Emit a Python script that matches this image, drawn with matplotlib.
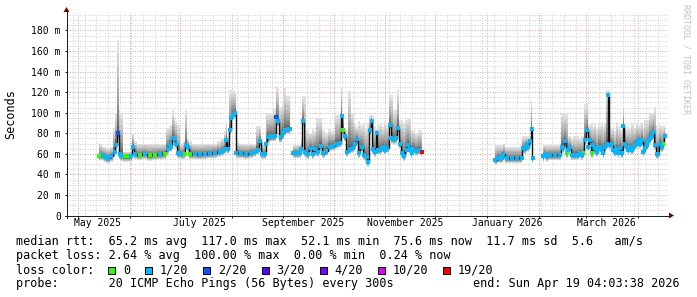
import numpy as np
import pandas as pd
import matplotlib
matplotlib.use("Agg")
import matplotlib.pyplot as plt
import matplotlib.dates as mdates
import matplotlib.transforms as mtrans
from matplotlib.lines import Line2D
from matplotlib.patches import Rectangle, Polygon

W, H = 697, 297
MONO = "DejaVu Sans Mono"

end = pd.Timestamp("2026-04-19 04:03:38")
start = end - pd.Timedelta(days=360)

nan = np.nan
# days since start of graph
days = [
    19.4, 20.8, 21.7, 22.8, 24.7, 26.8, 28.8, 29.8, 30.7, 31.8,
    32.8, 34.8, 36.7, 38.8, 39.7, 40.7, 43.7, 46.7, 49.7, 52.7,
    55.7, 58.7, 60.7, 61.7, 62.7, 63.7, 64.7, 65.7, 66.7, 68.7,
    70.7, 71.7, 72.7, 73.7, 76.7, 79.7, 82.7, 85.7, 88.7, 91.7,
    93.6, 94.7, 95.7, 96.6, 97.7, 98.7, 99.6, 100.7, 101.7, 104.7,
    107.7, 110.7, 112.6, 114.6, 115.6, 117.0, 118.6, 119.7, 120.6, 122.6,
    124.6, 125.6, 126.6, 128.2, 129.6, 130.6, 132.6, 133.6, 134.6, 135.6,
    137.6, 139.6, 140.6, 141.6, 142.6, 144.6, 146.2, 147.6, 148.6, 150.6,
    152.2, 153.6, 155.6, 157.6, 159.6, 161.6, 163.6, 164.6, 165.5, 166.6,
    167.6, 169.6, 171.5, 172.6, 173.6, 175.0, 176.6, 178.1, 179.6, 180.5,
    181.5, 182.6, 183.5, 184.5, 185.6, 186.5, 188.6, 189.5, 190.5, 192.1,
    193.5, 194.5, 196.1, 197.5, 198.5, 199.5, 200.5, 202.1, 203.5, 204.5,
    205.5, 206.5, 207.5, 209.5, 211.5, 212.5, 234.0,
    256.4, 258.4, 260.5, 261.4, 263.4, 266.4, 269.4, 272.4, 273.4, 274.4,
    275.4, 276.4, 277.4, 278.4, 279.4, 282.0, 285.4, 286.4, 287.4, 289.4,
    292.4, 295.4, 296.4, 297.4, 298.4, 299.4, 300.4, 301.4, 302.4, 304.4,
    306.4, 307.4, 308.4, 309.3, 310.4, 311.4, 312.3, 313.4, 314.4, 315.3,
    316.4, 317.4, 318.3, 319.4, 320.4, 321.3, 322.3, 323.4, 324.3, 325.3,
    326.4, 327.3, 328.3, 329.4, 330.3, 331.3, 332.4, 333.3, 334.3, 335.4,
    336.3, 337.3, 338.3, 339.3, 340.3, 341.3, 342.3, 343.3, 344.3, 345.3,
    346.3, 347.3, 348.3, 349.3, 350.3, 351.3, 352.3, 353.3, 354.3, 355.3,
    356.3, 357.3, 358.3,
]

# median rtt in ms (nan = no data)
median_ms = [
    58, 58.7, 58.5, 57, 56, 57.5, 62, 69, 80, 60,
    58, 57.4, 57.4, 57.5, 67, 60, 59, 60, 58.5, 59,
    59.5, 60, 65, 70, 67, 75, 74, 70, 60.6, 60,
    60, 69, 67, 60, 60, 59.5, 60, 60.5, 61, 62,
    63, 65, 73.6, 65, 83, 95, 98, 99.6, 61, 60.5,
    60, 61, 62, 64, 72, 60, 60, 70, 76, 77,
    77, 96, 92, 76, 80, 83, 84, 84, nan, 61,
    61, 61, 65, 92, 62, 60, 66, 60, 65, 62,
    68, 61, 63, 67, 68, 70, 71, 97, 83, 77,
    62, 65, 66, 70, 74, 61, 67, 59, 57, 52.5,
    83, 92, 65, 62, 80, 64, 64.5, 67, 64, 66,
    88, 75, 74, 75, 85, 70, 61, 58, 64, 69,
    64.5, 61, 65, 63, 64, 62, nan,
    54, 56, 56, 60, 56, 56, 56, 56, 65.5, 64.5,
    70, 67, 72, 84, 56, nan, 57.4, 60, 57.4, 58.7,
    58.7, 58.7, 67, 65.5, 72, 61, 64, 67, 59, 59,
    59, 60.6, 59, 61, 73.6, 83, 67, 73.6, 61, 69,
    65.5, 62, 65.5, 67, 64, 60.6, 67, 70, 117, 69,
    70, 64, 62, 64.5, 61, 65.5, 60.6, 86.6, 70, 67,
    64, 65.5, 64, 65.5, 69, 70, 73.6, 70, 73.6, 62,
    65.5, 69, 72, 75, 77.5, 81.7, 69, 60, 60, 70,
    66.5, 70, 77,
]

# top of the smoke (slowest ping) in ms
smoke_top_ms = [
    71, 70, 67, 67, 66, 67, 85, 100, 171, 103,
    100, 62, 62, 63, 80, 72, 70, 70, 70, 70,
    70, 70, 85, 87, 88, 103, 96, 92, 88, 70,
    72, 103, 74, 72, 70, 70, 70, 70, 70, 72,
    75, 82, 90, 77, 122, 122, 122, 121, 72, 70,
    70, 70, 70, 87, 87, 72, 70, 100, 100, 100,
    104, 125.6, 125, 106, 110, 124, 116, 116, nan, 69,
    69, 69, 74, 116, 116, 83, 80, 84, 82, 95,
    95, 83, 80, 84, 82, 98, 98, 124, 100, 83,
    83, 121, 100, 90, 86, 92, 88, 90, 85, 90,
    98, 98, 98, 86.6, 84, 88, 90, 86, 92, 88,
    117.5, 117.5, 103, 103, 122, 93, 93, 90, 93, 95,
    95, 83, 83, 80, 83, 83, nan,
    69, 69, 69, 70, 67, 67, 67, 67, 77, 77,
    77, 77, 77, 111, 60, nan, 69, 69, 69, 69,
    69, 69, 100, 100, 100, 100, 77, 77, 75, 77,
    77, 75, 77, 77, 108, 108, 90, 88, 90, 86,
    90, 84, 90, 88, 90, 86, 90, 122, 122, 86.6,
    84, 88, 82, 90, 84, 86.6, 82, 106, 86.6, 84,
    88, 84, 90, 86.6, 84, 90, 86.6, 88, 90, 84,
    93, 93, 93, 100, 100, 100, 106, 86.6, 84, 88,
    86.6, 86.6, 86.6,
]

# loss bucket index into loss_labels (-1 = no data)
loss_idx = [
    0, 0, 1, 1, 1, 1, 1, 1, 2, 1,
    1, 0, 0, 1, 1, 1, 0, 1, 0, 0,
    1, 0, 1, 1, 1, 1, 1, 1, 1, 1,
    0, 1, 1, 0, 1, 1, 1, 1, 1, 1,
    1, 1, 1, 1, 1, 1, 1, 1, 1, 1,
    1, 1, 1, 1, 1, 1, 1, 1, 1, 1,
    1, 2, 1, 1, 1, 1, 1, 1, -1, 1,
    1, 1, 1, 1, 1, 1, 1, 1, 1, 1,
    1, 1, 1, 1, 1, 1, 1, 1, 0, 1,
    1, 1, 1, 1, 1, 1, 1, 1, 1, 1,
    1, 1, 1, 1, 1, 1, 1, 1, 1, 1,
    1, 1, 1, 1, 1, 1, 1, 1, 1, 1,
    1, 1, 1, 1, 1, 6, -1,
    1, 1, 1, 1, 1, 1, 1, 1, 1, 1,
    1, 1, 1, 1, 1, -1, 1, 1, 1, 1,
    1, 1, 1, 1, 1, 0, 1, 1, 1, 1,
    1, 1, 1, 0, 1, 1, 1, 1, 0, 1,
    1, 1, 1, 1, 1, 1, 1, 1, 1, 1,
    1, 1, 1, 1, 1, 1, 1, 1, 1, 1,
    1, 1, 1, 1, 1, 1, 1, 1, 1, 1,
    1, 1, 1, 1, 1, 1, 1, 1, 1, 1,
    1, 0, 1,
]

loss_labels = ["0", "1/20", "2/20", "3/20", "4/20", "10/20", "19/20"]
loss_colors = ["#26ff00", "#00b8ff", "#0059ff", "#5e00ff", "#7e00ff", "#dd00ff", "#ff0000"]

ytick_vals = [0, 20, 40, 60, 80, 100, 120, 140, 160, 180]
ytick_labels = ["0", "20 m", "40 m", "60 m", "80 m", "100 m", "120 m", "140 m", "160 m", "180 m"]
month_labels = ["May 2025", "July 2025", "September 2025", "November 2025", "January 2026", "March 2026"]
month_label_dates = ["2025-05-13", "2025-07-13", "2025-09-13", "2025-11-13", "2026-01-13", "2026-03-13"]

stat_lines = [
    "median rtt:  65.2 ms avg  117.0 ms max  52.1 ms min  75.6 ms now  11.7 ms sd  5.6   am/s",
    "packet loss: 2.64 % avg  100.00 % max  0.00 % min  0.24 % now",
]
probe_text = "probe:       20 ICMP Echo Pings (56 Bytes) every 300s"
end_text = "end: Sun Apr 19 04:03:38 2026"


def fx(px):
    return px / W


def fy(py):
    return 1 - py / H


fig = plt.figure(figsize=(W / 100, H / 100), dpi=100)
fig.patch.set_facecolor("white")
ax = fig.add_axes([fx(66.5), fy(215.5), (668 - 66.5) / W, (215.5 - 13) / H])

x0 = mdates.date2num(start)
x1 = mdates.date2num(end)
x = x0 + np.array(days)
med = np.array(median_ms, dtype=float)
top = np.array(smoke_top_ms, dtype=float)
loss = np.array(loss_idx)

ax.set_xlim(x0, x1)
ax.set_ylim(0, 197)
for s in ax.spines.values():
    s.set_visible(False)

# grid, rrdtool style dotted lines
minor_c = "#d0d0d0"
major_c = "#e8a4a4"
dots = (0, (1, 1.5))
for v in np.arange(5, 197, 5):
    ax.axhline(v, color=major_c if v % 20 == 0 else minor_c, lw=0.72, ls=dots, zorder=0)
months = pd.date_range("2025-05-01", end, freq="MS")
weeks = pd.date_range(start.normalize(), end, freq="W-MON")
for d in weeks:
    ax.axvline(mdates.date2num(d), color=minor_c, lw=0.72, ls=dots, zorder=0)
for d in months:
    ax.axvline(mdates.date2num(d), color=major_c, lw=0.72, ls=dots, zorder=0)

# smoke + median, one piece per data segment
SMOKE_BELOW = 5
gaps = np.where(np.isnan(med))[0]
segs = [seg[~np.isnan(med[seg])] for seg in np.split(np.arange(len(med)), gaps)]
N = 12
for k in range(N, 0, -1):
    f = k / N
    g = 0.22 + 0.66 * f
    for seg in segs:
        ax.fill_between(x[seg], med[seg] - SMOKE_BELOW * f,
                        med[seg] + (top[seg] - med[seg]) * f ** 1.8,
                        step="mid", color=(g, g, g), lw=0, zorder=2)

for seg in segs:
    ax.plot(x[seg], med[seg], drawstyle="steps-mid", color="#101010", lw=1.0, zorder=3)
for i, c in enumerate(loss_colors):
    sel = loss == i
    ax.plot(x[sel], med[sel], "s", ms=2.6, mew=0, color=c, zorder=4)

# ticks and labels
ax.set_yticks(ytick_vals)
ax.set_yticklabels(ytick_labels, family=MONO, fontsize=7)
ax.tick_params(axis="y", length=1.5, width=0.72, pad=2.6, color="#202020")
ax.set_xticks([mdates.date2num(d) for d in months])
ax.set_xticklabels([])
ax.tick_params(axis="x", length=1.5, width=0.72, color="#202020")
tr = mtrans.blended_transform_factory(ax.transData, ax.transAxes)
for lab, d in zip(month_labels, month_label_dates):
    ax.text(mdates.date2num(pd.Timestamp(d)), -0.037, lab, transform=tr,
            ha="center", va="center", family=MONO, fontsize=7)

# axis lines with arrows
fig.add_artist(Line2D([fx(66.5)] * 2, [fy(217.5), fy(11)], color="#202020", lw=0.72))
fig.add_artist(Line2D([fx(64.5), fx(670)], [fy(215.5)] * 2, color="#202020", lw=0.72))
fig.add_artist(Polygon([[fx(63.5), fy(12)], [fx(69.5), fy(12)], [fx(66.5), fy(7)]],
                       closed=True, color="#7f0000", lw=0))
fig.add_artist(Polygon([[fx(669), fy(212.5)], [fx(669), fy(218.5)], [fx(674), fy(215.5)]],
                       closed=True, color="#7f0000", lw=0))

fig.text(fx(10.7), fy(114), "Seconds", rotation=90, ha="center", va="center",
         family=MONO, fontsize=8.5)
fig.text(fx(686), fy(4), "RRDTOOL / TOBI OETIKER", rotation=270, ha="center", va="top",
         family=MONO, fontsize=6, color="#c0c0c0")

# legend block
CW = 7.1
base = [245.5, 259.5, 273.5, 287.5]
for i, line in enumerate(stat_lines):
    fig.text(fx(16), fy(base[i]), line, family=MONO, fontsize=8.5, va="baseline")
fig.text(fx(16), fy(base[2]), "loss color:", family=MONO, fontsize=8.5, va="baseline")
bx = 108.3
for lab, c in zip(loss_labels, loss_colors):
    fig.add_artist(Rectangle((fx(bx), fy(base[2])), 7 / W, 7 / H, facecolor=c,
                             edgecolor="black", lw=0.72))
    fig.text(fx(bx + 14.5), fy(base[2]), lab, family=MONO, fontsize=8.5, va="baseline")
    bx += 29.8 + CW * len(lab)
fig.text(fx(16), fy(base[3]), probe_text, family=MONO, fontsize=8.5, va="baseline")
fig.text(fx(680), fy(base[3]), end_text, family=MONO, fontsize=8.5, va="baseline", ha="right")

fig.savefig("out.png", dpi=100)
